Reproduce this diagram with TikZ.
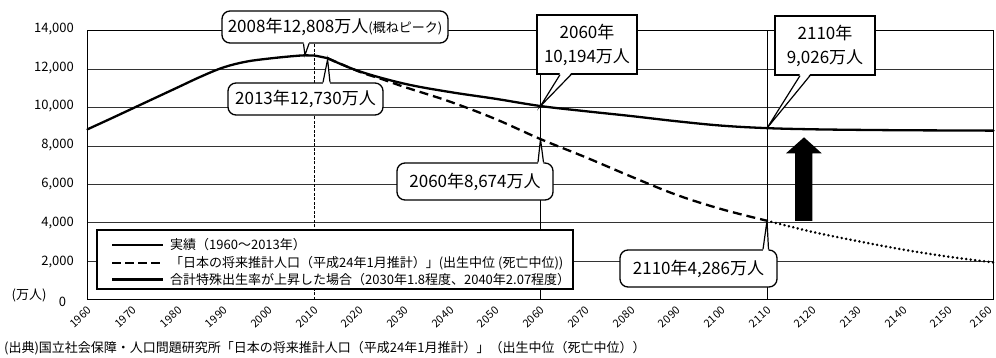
\documentclass[tikz,border=0pt]{standalone}
\usepackage{fontspec}
\setmainfont{Noto Sans CJK JP}
\begin{document}
\begin{tikzpicture}[x=1pt,y=-1pt,
  gridline/.style={line width=0.6pt, black!80},
  frameline/.style={line width=0.7pt, black},
  vguide/.style={line width=0.6pt, black},
  vguidedot/.style={line width=0.6pt, black, dash pattern=on 3pt off 1.5pt},
  thickcurve/.style={line width=2.3pt, line join=round, line cap=round},
  dashcurve/.style={line width=2.3pt, dash pattern=on 9pt off 5pt},
  dotcurve/.style={line width=2.8pt, line cap=round, dash pattern=on 0.01pt off 4.5pt},
  rbox/.style={draw, line width=1.3pt, fill=white, rounded corners=8pt, inner sep=0pt,
    font=\fontsize{17}{20}\selectfont},
  sbox/.style={draw, line width=1.3pt, fill=white, inner sep=0pt, align=center,
    font=\fontsize{17}{24}\selectfont},
  spikeline/.style={line width=1.2pt, line join=miter},
  ylab/.style={anchor=east, inner sep=0pt, font=\fontsize{13}{13}\selectfont},
  xlab/.style={inner sep=0pt, font=\fontsize{11}{11}\selectfont},
  legtext/.style={anchor=west, inner sep=0pt, font=\fontsize{13}{13}\selectfont},
  legbox/.style={draw, line width=1.2pt, fill=white, inner sep=0pt, minimum width=476pt, minimum height=59pt}
]
\useasboundingbox (0,0) rectangle (996,358);

% ---------- data scope: x = years since 1960, y = value (万人) ----------
\begin{scope}[shift={(87.5,299.5)}, x=4.53pt, y=0.019214pt]
  % grid
  \foreach \v in {2000,4000,6000,8000,10000,12000}
    \draw[gridline] (0,\v) -- (200,\v);
  \draw[frameline] (0,0) rectangle (200,14000);
  % vertical guides
  \draw[vguidedot] (50,0) -- (50,14000);
  \draw[vguide] (100,0) -- (100,14000);
  \draw[vguide] (150,0) -- (150,14000);

  % curves
  \draw[thickcurve] plot[smooth, tension=0.6] coordinates {
    (0,8860) (5,9400) (10,9950) (15,10500) (20,11050) (25,11600) (30,12080)
    (35,12380) (40,12540) (45,12660) (48,12710) (50,12700) (53,12560)};
  \draw[dashcurve] plot[smooth, tension=0.6] coordinates {
    (53,12560) (60,11860) (65,11470) (70,11060) (80,10300) (90,9400) (100,8350)
    (110,7400) (120,6400) (130,5450) (140,4700) (150,4100)};
  \draw[dotcurve] plot[smooth, tension=0.6] coordinates {
    (150,4100) (160,3520) (170,3040) (180,2600) (190,2230) (200,1930)};
  \draw[thickcurve] plot[smooth, tension=0.6] coordinates {
    (53,12560) (60,11880) (70,11230) (80,10800) (90,10450) (100,10070)
    (110,9800) (120,9550) (130,9280) (140,9050) (150,8920) (160,8860)
    (170,8830) (180,8810) (190,8800) (200,8790)};

  % pointer targets
  \coordinate (p2008) at (48,12720);
  \coordinate (p2013) at (53,12500);
  \coordinate (p2060s) at (100,10070);
  \coordinate (p2110s) at (150,8920);
  \coordinate (p2060d) at (100,8350);
  \coordinate (p2110d) at (150,4100);
\end{scope}

% ---------- axis labels ----------
\node[ylab] (y14) at (74,29.5) {14,000};
\node[ylab] (y12) at (74,68) {12,000};
\node[ylab] (y10) at (74,106.5) {10,000};
\node[ylab] (y8) at (74,145.5) {8,000};
\node[ylab] (y6) at (74,184.5) {6,000};
\node[ylab] (y4) at (74,223) {4,000};
\node[ylab] (y2) at (74,262) {2,000};
\node[inner sep=0pt, font=\fontsize{13}{13}\selectfont] (y0) at (62.5,301.5) {0};
\node[inner sep=0pt, font=\fontsize{13}{13}\selectfont] (unit) at (29,295) {(万人)};

\foreach \yr in {1960,1970,...,2150}
  \node[xlab] (xl\yr) at ({87.5+(\yr-1960)*4.53-7},317) {\rotatebox{42}{\yr}};
\node[xlab] (xl2160) at (981,317) {\rotatebox{42}{2160}};

% ---------- big arrow ----------
\fill[black] (795,221) -- (812.3,221) -- (812.3,153.3) -- (821.7,153.3) -- (804,137.3)
  -- (786,153.3) -- (795,153.3) -- cycle;

% ---------- legend ----------
\node[legbox] (leg) at (335,259.5) {};
\draw[line width=2.3pt] (112,245) -- (163,245);
\draw[line width=2.3pt, dash pattern=on 9pt off 4pt] (112,263) -- (163,263);
\draw[line width=2.3pt] (112,279.5) -- (163,279.5);
\node[legtext] (lt1) at (170,245) {実績（1960〜2013年）};
\node[legtext] (lt2) at (170,263) {「日本の将来推計人口（平成24年1月推計）」(出生中位 (死亡中位))};
\node[legtext] (lt3) at (170,279.5) {合計特殊出生率が上昇した場合（2030年1.8程度、2040年2.07程度）};

% ---------- callouts ----------
\node[rbox, minimum width=226pt, minimum height=32pt] (c1) at (335,27)
  {2008年12,808万人{\fontsize{13}{13}\selectfont (概ねピーク)}};
\fill[white] ([xshift=-31.5,yshift=1.5]c1.south) -- (p2008) -- ([xshift=-26,yshift=1.5]c1.south) -- cycle;
\draw[spikeline] ([xshift=-31.5]c1.south) -- (p2008) -- ([xshift=-26]c1.south);

\node[rbox, minimum width=155pt, minimum height=32pt] (c2) at (305.5,99) {2013年12,730万人};
\fill[white] ([xshift=17.5,yshift=-1.5]c2.north) -- (p2013) -- ([xshift=24.5,yshift=-1.5]c2.north) -- cycle;
\draw[spikeline] ([xshift=17.5]c2.north) -- (p2013) -- ([xshift=24.5]c2.north);

\node[sbox, minimum width=100pt, minimum height=59pt] (c3) at (587,44.5) {2060年\\10,194万人};
\fill[white] ([xshift=-27,yshift=1.5]c3.south) -- (p2060s) -- ([xshift=-16,yshift=1.5]c3.south) -- cycle;
\draw[spikeline] ([xshift=-27]c3.south) -- (p2060s) -- ([xshift=-16]c3.south);

\node[sbox, minimum width=100pt, minimum height=59pt] (c4) at (825,45.5) {2110年\\9,026万人};
\fill[white] ([xshift=-25,yshift=1.5]c4.south) -- (p2110s) -- ([xshift=-15,yshift=1.5]c4.south) -- cycle;
\draw[spikeline] ([xshift=-25]c4.south) -- (p2110s) -- ([xshift=-15]c4.south);

\node[rbox, minimum width=156pt, minimum height=37pt] (c5) at (475,181.5) {2060年8,674万人};
\fill[white] ([xshift=63,yshift=-1.5]c5.north) -- (p2060d) -- ([xshift=68.5,yshift=-1.5]c5.north) -- cycle;
\draw[spikeline] ([xshift=63]c5.north) -- (p2060d) -- ([xshift=68.5]c5.north);

\node[rbox, minimum width=157pt, minimum height=37pt] (c6) at (698.5,268.5) {2110年4,286万人};
\fill[white] ([xshift=64.5,yshift=-1.5]c6.north) -- (p2110d) -- ([xshift=70,yshift=-1.5]c6.north) -- cycle;
\draw[spikeline] ([xshift=64.5]c6.north) -- (p2110d) -- ([xshift=70]c6.north);

% ---------- source ----------
\node[anchor=west, inner sep=0pt, font=\fontsize{13}{13}\selectfont] (src) at (4,348)
  {(出典)国立社会保障・人口問題研究所「日本の将来推計人口（平成24年1月推計）」（出生中位（死亡中位））};
\end{tikzpicture}
\end{document}
